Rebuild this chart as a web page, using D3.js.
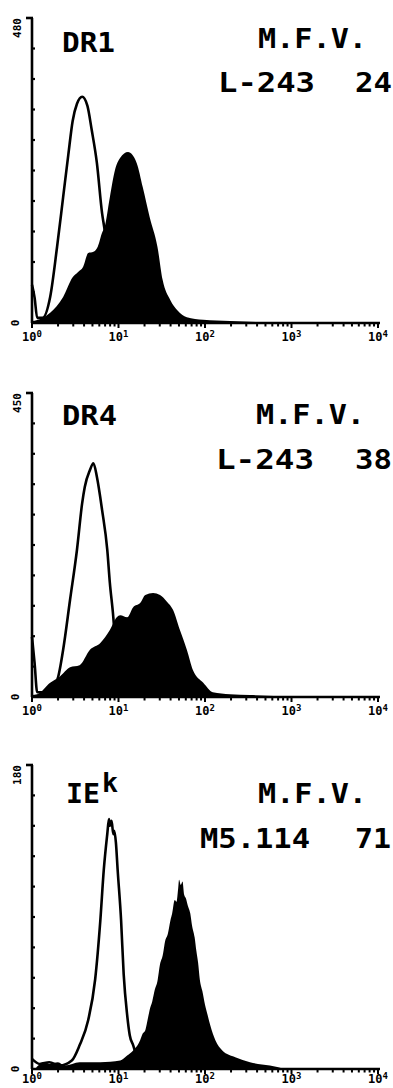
<!DOCTYPE html>
<html><head><meta charset="utf-8">
<script src="https://cdn.jsdelivr.net/npm/d3@7"></script>
<style>html,body{margin:0;padding:0;background:#fff;}svg{display:block;}</style>
</head><body><svg id="c" width="393" height="1088"></svg>
<script>
// ---- data: x = log10 fluorescence (decades), y = cell count ----
const dr1Control = [[0.0,60],[0.03,40],[0.06,8],[0.12,8],[0.21,41],[0.29,120],[0.36,198],[0.42,265],[0.47,318],[0.52,345],[0.58,356],[0.64,342],[0.69,304],[0.75,252],[0.81,173],[0.84,146],[0.90,68],[0.98,16],[1.05,5],[1.19,2]];
const dr1Stain = [[0.0,3],[0.12,8],[0.21,16],[0.36,41],[0.47,72],[0.53,80],[0.59,88],[0.65,110],[0.71,112],[0.76,120],[0.81,142],[0.84,151],[0.90,198],[0.96,241],[1.02,260],[1.11,269],[1.21,252],[1.28,214],[1.36,167],[1.45,120],[1.51,68],[1.60,36],[1.68,20],[1.79,9],[1.98,5],[2.29,3],[2.75,1],[3.1,0]];
const dr4Control = [[0.0,89],[0.03,50],[0.06,7],[0.15,7],[0.29,25],[0.36,70],[0.44,144],[0.52,218],[0.58,287],[0.61,311],[0.67,336],[0.71,346],[0.75,326],[0.81,277],[0.87,218],[0.90,169],[0.94,118],[0.96,84],[1.02,25],[1.10,7],[1.25,3]];
const dr4Stain = [[0.0,3],[0.06,4],[0.21,21],[0.32,30],[0.44,44],[0.55,47],[0.67,70],[0.79,80],[0.90,99],[0.98,118],[1.02,121],[1.10,118],[1.17,133],[1.25,139],[1.31,151],[1.40,154],[1.48,151],[1.56,141],[1.63,129],[1.71,99],[1.79,70],[1.86,40],[1.98,21],[2.09,7],[2.29,4],[2.52,3],[2.87,1],[3.1,0]];
const iekControl = [[0.0,6],[0.09,3],[0.20,4],[0.32,2],[0.46,5],[0.55,14],[0.65,29],[0.73,53],[0.79,88],[0.83,118],[0.87,139],[0.89,148],[0.90,144],[0.92,147],[0.94,139],[0.95,141],[0.97,134],[0.99,118],[1.03,88],[1.06,56],[1.10,32],[1.13,20],[1.17,14],[1.23,5],[1.36,2]];
const iekStain = [[0.05,1],[0.14,4],[0.21,3],[0.30,4],[0.38,2],[0.55,4],[0.79,4],[1.02,5],[1.10,8],[1.17,11],[1.22,14],[1.25,17],[1.28,21],[1.31,23],[1.34,30],[1.36,35],[1.39,40],[1.42,47],[1.45,52],[1.48,62],[1.51,67],[1.54,76],[1.57,80],[1.60,88],[1.62,92],[1.65,100],[1.67,99],[1.69,107],[1.70,112],[1.72,109],[1.74,111],[1.76,103],[1.78,101],[1.80,97],[1.83,92],[1.85,85],[1.88,78],[1.90,70],[1.92,63],[1.94,53],[1.97,46],[2.00,38],[2.03,32],[2.06,26],[2.12,17],[2.20,11],[2.35,7],[2.52,4],[2.75,2],[2.92,0]];
const xTickExponents = ["0","1","2","3","4"];
const yMaxValues = [480, 450, 180];
const yMaxLabels = ["480", "450", "180"];
const panelTitles = ["DR1", "DR4", "IE"];
const antibodyNames = ["L-243", "L-243", "M5.114"];
const mfvValues = ["24", "38", "71"];

// ---- layout ----
const svg = d3.select("#c");
const FONT = "'DejaVu Sans Mono', monospace";
const x0 = 32, x1 = 378;
const tops = [18, 393, 765], bottoms = [323, 697, 1069];
const labelOffsets = [18, 18, 14];
const controls = [dr1Control, dr4Control, iekControl];
const stains = [dr1Stain, dr4Stain, iekStain];
const x = d3.scaleLinear().domain([0, 4]).range([x0, x1]);

for (let p = 0; p < 3; p++) {
  const top = tops[p], base = bottoms[p];
  const y = d3.scaleLinear().domain([0, yMaxValues[p]]).range([base, top]);
  const g = svg.append("g");

  const area = d3.area().x(d => x(d[0])).y0(base).y1(d => y(d[1])).curve(d3.curveMonotoneX);
  g.append("path").datum(stains[p]).attr("d", area).attr("fill", "#000");
  const line = d3.line().x(d => x(d[0])).y(d => y(d[1])).curve(d3.curveMonotoneX);
  g.append("path").datum(controls[p]).attr("d", line).attr("fill", "none")
    .attr("stroke", "#000").attr("stroke-width", 2.6).attr("stroke-linejoin", "round");

  // x axis
  g.append("line").attr("x1", x0).attr("x2", x1 + 2).attr("y1", base).attr("y2", base)
    .attr("stroke", "#000").attr("stroke-width", 2.6);
  const minor = [];
  for (let d = 0; d < 4; d++) for (let k = 1; k <= 9; k++) minor.push(d + Math.log10(k));
  minor.push(4);
  g.selectAll(".mt").data(minor).enter().append("line")
    .attr("x1", d => x(d)).attr("x2", d => x(d)).attr("y1", base)
    .attr("y2", d => base + (Math.abs(d - Math.round(d)) < 1e-9 ? 5 : 3.5))
    .attr("stroke", "#000").attr("stroke-width", 2);
  xTickExponents.forEach(e => {
    const t = g.append("text").attr("x", x(+e)).attr("y", base + labelOffsets[p]).attr("text-anchor", "middle")
      .attr("font-family", FONT).attr("font-weight", "bold").attr("font-size", 12).attr("fill", "#000");
    t.append("tspan").text("10");
    t.append("tspan").attr("dy", -4).attr("font-size", 9).text(e);
  });

  // y axis
  g.append("line").attr("x1", x0).attr("x2", x0).attr("y1", top).attr("y2", base)
    .attr("stroke", "#000").attr("stroke-width", 2.6);
  g.append("line").attr("x1", x0 - 6).attr("x2", x0 + 1).attr("y1", top).attr("y2", top)
    .attr("stroke", "#000").attr("stroke-width", 2.6);
  g.selectAll(".yt").data(d3.range(1, 10).map(i => yMaxValues[p] * i / 10)).enter()
    .append("line").attr("x1", x0).attr("x2", x0 + 3).attr("y1", d => y(d)).attr("y2", d => y(d))
    .attr("stroke", "#000").attr("stroke-width", 2.2);
  g.append("text").attr("transform", `translate(21,${top + 10}) rotate(-90)`).attr("text-anchor", "middle")
    .attr("font-family", FONT).attr("font-weight", "bold").attr("font-size", 11).attr("fill", "#000")
    .text(yMaxLabels[p]);
  g.append("text").attr("transform", `translate(19,${base}) rotate(-90)`).attr("text-anchor", "middle")
    .attr("font-family", FONT).attr("font-weight", "bold").attr("font-size", 11).attr("fill", "#000")
    .text("0");
}

// ---- annotations ----
function txt(s, xx, yy, len, size) {
  return svg.append("text").attr("x", xx).attr("y", yy).attr("font-family", FONT)
    .attr("font-weight", "bold").attr("font-size", size || 27).attr("fill", "#000")
    .attr("textLength", len).attr("lengthAdjust", "spacingAndGlyphs").text(s);
}
txt(panelTitles[0], 62, 52, 53);
txt("M.F.V.", 258, 48, 109);
txt(antibodyNames[0], 218, 92, 97);
txt(mfvValues[0], 355, 92, 37);

txt(panelTitles[1], 62, 425, 55);
txt("M.F.V.", 256, 424, 109);
txt(antibodyNames[1], 216, 469, 98);
txt(mfvValues[1], 355, 469, 37);

txt(panelTitles[2], 66, 803, 34);
txt("k", 102, 792, 16);
txt("M.F.V.", 258, 803, 109);
txt(antibodyNames[2], 200, 848, 110);
txt(mfvValues[2], 355, 848, 36);
</script></body></html>
